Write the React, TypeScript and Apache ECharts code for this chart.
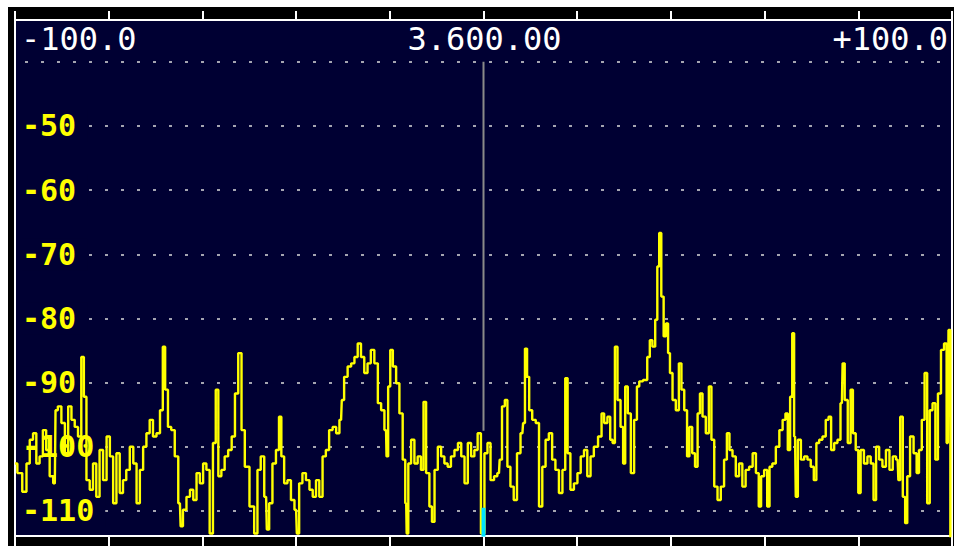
import React, { useEffect, useRef } from "react";
import * as echarts from "echarts";

// Frequency offsets from the centre frequency (kHz) and the measured level (dB)
const freqOffsets = [
  -100.0, -99.0, -97.9, -97.2, -96.5, -95.8, -95.1, -94.4, -93.7, -93.0, -92.2, -91.5, -91.2, -90.5, -89.7, -89.0,
  -88.3, -87.6, -86.9, -86.2, -85.5, -85.1, -84.4, -83.7, -83.0, -82.3, -81.6, -80.8, -80.1, -79.4, -78.7, -78.0,
  -77.3, -76.6, -75.9, -75.1, -74.4, -73.7, -73.0, -72.3, -71.6, -70.9, -70.2, -69.4, -68.7, -68.2, -67.7, -67.0,
  -66.3, -65.5, -64.8, -64.5, -63.8, -63.0, -62.3, -61.6, -60.9, -60.2, -59.5, -58.8, -58.1, -57.4, -56.9, -56.3,
  -55.6, -54.9, -54.1, -53.4, -52.7, -52.0, -51.3, -50.6,
  -49.3, -48.6, -47.9, -47.2, -46.4, -46.1, -45.4, -44.7, -43.9, -43.4, -42.9, -42.2, -41.5, -40.7, -40.0, -39.7,
  -39.0, -38.3, -37.5, -36.8, -36.1, -35.4, -34.7, -34.0, -33.3, -32.6, -31.8, -31.1, -30.4, -30.1, -29.4, -28.6,
  -27.9, -27.2, -26.5, -25.8, -25.1, -24.4, -23.7, -22.9, -22.2, -21.5, -20.8, -20.6, -20.1, -19.7, -19.0, -18.3,
  -17.6, -16.9, -16.5, -16.3, -15.8, -15.1, -14.4, -13.7, -13.0, -12.6, -11.9, -11.2, -10.8, -10.1, -9.4, -8.7,
  -8.0, -7.3, -6.6, -5.8, -5.1, -4.4, -3.7, -3.0, -2.3, -1.6, -0.9, -0.2, 0.6,
  1.1, 1.9, 2.6, 3.3, 3.6, 4.3, 4.8, 5.4, 6.1, 6.8, 7.5, 8.3, 8.6, 9.1, 9.5, 10.0,
  10.8, 11.5, 12.2, 12.9, 13.6, 14.3, 15.0, 15.7, 16.5, 17.2, 17.7, 18.2, 18.9, 19.7, 20.4, 21.1,
  21.8, 22.5, 23.2, 23.9, 25.0, 25.4, 26.1, 26.8, 27.3, 27.8, 28.3, 28.9, 29.6, 30.0, 30.5, 31.1,
  31.8, 32.5, 33.0, 33.5, 34.6, 35.3, 35.7, 36.4, 36.9, 37.3, 37.7, 38.2, 38.7, 39.2, 39.6, 40.0,
  40.7, 41.4, 42.0, 42.5, 43.2, 43.7, 44.2, 44.9, 45.4, 46.0, 46.4, 47.1, 47.8, 48.4, 48.9, 49.6,
  50.3, 51.0,
  51.7, 52.2, 52.8, 53.5, 54.2, 54.9, 55.6, 56.3, 57.1, 57.8, 58.5, 59.0, 59.5, 60.3, 60.8, 61.3,
  62.0, 62.8, 63.5, 64.2, 64.7, 65.2, 65.7, 66.1, 66.5, 66.8, 67.4, 68.1, 68.8, 69.5, 70.2, 70.8,
  71.3, 72.0, 72.7, 73.4, 73.9, 74.5, 75.2, 75.9, 76.5, 76.8, 77.4, 78.1, 78.6, 79.1, 79.8, 80.2,
  80.8, 81.6, 82.3, 83.0, 83.5, 84.1, 84.8, 85.5, 86.3, 87.0, 87.7, 88.4, 88.7, 89.2, 89.8, 90.2,
  90.7, 91.4, 92.2, 92.7, 93.2, 93.9, 94.4, 95.0, 95.5, 96.2, 96.7, 97.3, 98.0, 98.6, 99.1, 99.4,
  99.9,
];

const levels = [
  -102.6, -104.1, -107.0, -102.6, -98.9, -97.9, -102.6, -101.5, -97.4, -100.5, -104.6, -105.7, -94.3, -93.7, -96.3, -101.0,
  -93.7, -95.8, -96.9, -98.4, -86.0, -92.2, -105.2, -106.7, -102.6, -107.8, -100.5, -105.2, -98.4, -101.5, -108.8, -101.0,
  -107.2, -105.2, -103.6, -100.0, -102.6, -108.8, -103.6, -100.0, -97.9, -95.8, -98.4, -97.9, -94.3, -84.4, -91.1, -96.9,
  -97.4, -101.5, -108.8, -112.4, -109.8, -107.8, -106.7, -108.3, -104.1, -105.7, -102.6, -103.6, -113.5, -99.4, -91.1, -104.6,
  -103.6, -101.5, -100.5, -98.4, -91.7, -85.4, -97.4, -103.1,
  -109.3, -113.5, -103.6, -101.5, -107.8, -112.9, -108.8, -102.6, -100.5, -95.3, -101.5, -105.7, -105.2, -108.3, -109.8, -113.5,
  -105.7, -104.1, -105.2, -106.7, -107.8, -105.2, -107.8, -101.5, -100.5, -97.4, -96.9, -97.9, -95.8, -92.7, -89.1, -87.5,
  -87.0, -86.0, -83.9, -86.0, -88.5, -87.0, -84.9, -87.0, -93.2, -94.3, -97.4, -101.5, -90.6, -84.9, -87.5, -90.1,
  -94.8, -102.0, -108.8, -113.5, -102.6, -98.9, -102.6, -101.5, -103.6, -93.0, -104.1, -109.3, -111.7, -103.6, -100.0, -101.5,
  -102.6, -103.1, -101.5, -100.5, -99.4, -101.5, -105.7, -99.4, -101.5, -100.5, -97.9, -113.5, -101.0,
  -99.4, -105.2, -104.6, -104.1, -102.0, -93.7, -92.7, -103.1, -106.2, -108.3, -101.0, -97.9, -96.3, -84.7, -89.1, -94.3,
  -95.8, -96.3, -109.3, -103.1, -98.9, -97.9, -102.0, -103.6, -107.2, -103.6, -89.3, -101.0, -106.7, -105.7, -104.1, -101.5,
  -100.5, -104.6, -101.5, -100.0, -98.4, -94.8, -96.3, -95.3, -98.9, -99.4, -84.4, -92.7, -96.9, -102.6, -90.6, -94.8,
  -104.1, -95.8, -90.6, -89.8, -89.6, -86.0, -83.4, -84.4, -80.2, -71.9, -66.7, -76.6, -82.8, -80.8, -85.4, -88.5,
  -92.7, -94.3, -87.0, -91.1, -94.3, -101.5, -96.9, -101.0, -103.1, -94.8, -91.7, -95.3, -97.9, -90.6, -98.9, -106.2,
  -108.3, -106.2,
  -102.0, -97.9, -100.5, -101.5, -104.6, -102.6, -106.2, -103.6, -103.1, -101.0, -104.1, -109.3, -104.6, -103.6, -109.3, -103.1,
  -102.6, -100.0, -97.4, -95.8, -94.8, -100.5, -92.2, -82.3, -98.4, -107.8, -98.9, -102.0, -101.5, -102.0, -103.1, -105.2,
  -99.4, -98.9, -98.4, -95.8, -95.3, -100.5, -99.4, -98.9, -93.2, -87.0, -92.7, -99.4, -91.1, -97.9, -100.5, -107.2,
  -100.5, -102.6, -101.5, -102.6, -108.3, -100.0, -102.0, -103.1, -100.5, -103.6, -101.5, -102.0, -105.2, -95.3, -107.8, -111.9,
  -104.6, -98.4, -101.0, -104.1, -100.5, -95.8, -88.5, -108.8, -94.3, -93.2, -102.0, -91.7, -84.9, -83.9, -99.4, -81.8,
  -115.0,
];

// Level scale (dB): dotted reference lines and labelled ones
const levelGridLines = [-40, -50, -60, -70, -80, -90, -100, -110];
const levelLabels = [-50, -60, -70, -80, -90, -100, -110];
const levelMin = -113.9;
const levelMax = -33.5;

// Frequency scale (kHz offset from centre) and its readout labels
const freqMin = -100;
const freqMax = 100;
const freqTickStep = 20;
const freqReadoutPos = [-100, 0, 100];
const freqReadoutText = ["-100.0", "3.600.00", "+100.0"];

// Centre (tuned) marker and the cursor marker below it
const centreMarker = [
  [0, -40],
  [0, -97.5],
];
const cursorMarker = [
  [0, -109.5],
  [0, -114],
];

export default function App() {
  const ref = useRef<HTMLDivElement>(null);

  useEffect(() => {
    if (!ref.current) return;
    const chart = echarts.init(ref.current, undefined, { renderer: "svg" });
    const mono = "'DejaVu Sans Mono', monospace";
    const tickAxisBase = {
      type: "value" as const,
      min: freqMin,
      max: freqMax,
      interval: freqTickStep,
      axisLine: { show: false },
      splitLine: { show: false },
    };
    chart.setOption({
      animation: false,
      backgroundColor: "#ffffff",
      graphic: [
        {
          type: "rect",
          z: -100,
          shape: { x: 8, y: 7, width: 946, height: 539 },
          style: { fill: "#000000" },
          silent: true,
        },
      ],
      grid: {
        left: 15,
        right: 2,
        top: 20,
        bottom: 10,
        show: true,
        backgroundColor: "#000033",
        borderColor: "#ffffff",
        borderWidth: 2,
      },
      xAxis: [
        {
          ...tickAxisBase,
          position: "bottom",
          axisTick: { show: true, inside: false, length: 10, lineStyle: { color: "#ffffff", width: 2 } },
          axisLabel: { show: false },
        },
        {
          ...tickAxisBase,
          position: "top",
          axisTick: { show: true, inside: false, length: 9, lineStyle: { color: "#ffffff", width: 2 } },
          axisLabel: {
            show: true,
            inside: true,
            margin: 3,
            customValues: freqReadoutPos,
            alignMinLabel: "left",
            alignMaxLabel: "right",
            padding: [0, 4, 0, 6],
            color: "#ffffff",
            fontFamily: mono,
            fontSize: 32,
            formatter: (v: number) => {
              const i = freqReadoutPos.indexOf(Math.round(v));
              return i >= 0 ? freqReadoutText[i] : "";
            },
          },
        },
      ],
      yAxis: {
        type: "value",
        min: levelMin,
        max: levelMax,
        axisLine: { show: false },
        axisTick: { show: false, customValues: levelGridLines },
        splitLine: {
          show: true,
          lineStyle: { color: "#dcdcdc", width: 1.5, type: [3, 13], dashOffset: 6 },
        },
        axisLabel: {
          show: true,
          inside: true,
          margin: 7,
          customValues: levelLabels,
          color: "#ffff00",
          fontFamily: mono,
          fontWeight: "bold",
          fontSize: 30,
          backgroundColor: "#000033",
          padding: [1, 11, 1, 0],
          formatter: (v: number) => String(Math.round(v)),
        },
      },
      series: [
        {
          type: "line",
          name: "centre",
          data: centreMarker,
          symbol: "none",
          z: 2,
          lineStyle: { color: "#8a8a8a", width: 2 },
          silent: true,
        },
        {
          type: "line",
          name: "spectrum",
          data: freqOffsets.map((f, i) => [f, levels[i]]),
          step: "middle",
          symbol: "none",
          z: 3,
          clip: true,
          lineStyle: { color: "#ffff00", width: 2.4 },
          silent: true,
        },
        {
          type: "line",
          name: "cursor",
          data: cursorMarker,
          symbol: "none",
          z: 4,
          lineStyle: { color: "#00e5ff", width: 4 },
          silent: true,
        },
      ],
    });
    return () => chart.dispose();
  }, []);

  return (
    <div
      ref={ref}
      style={{ position: "fixed", left: 0, top: 0, width: 954, height: 546 }}
    />
  );
}
